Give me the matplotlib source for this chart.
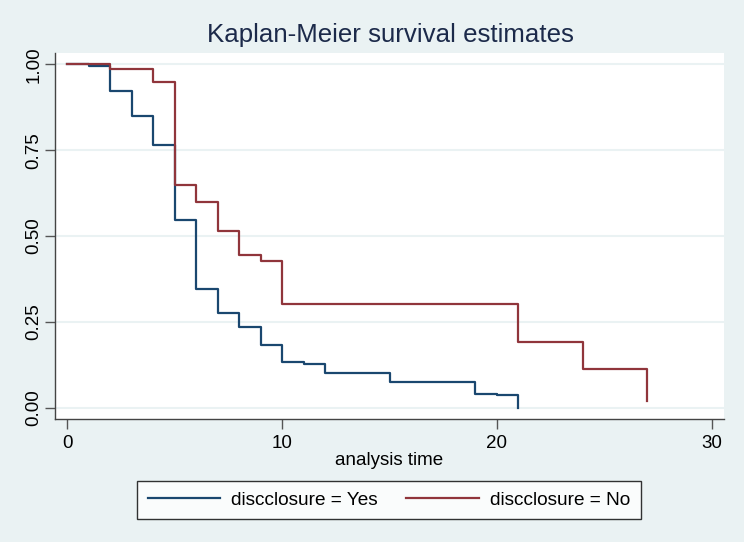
import matplotlib
matplotlib.use("Agg")
import matplotlib.pyplot as plt

# Kaplan-Meier estimates
t_yes = [0, 1, 2, 3, 4, 5, 6, 7, 8, 9, 10, 11, 12, 15, 19, 20, 21]
s_yes = [1.0, 0.994, 0.922, 0.850, 0.765, 0.547, 0.345, 0.275, 0.235,
         0.183, 0.133, 0.128, 0.101, 0.075, 0.041, 0.036, 0.0]
t_no = [0, 2, 4, 5, 6, 7, 8, 9, 10, 21, 24, 27]
s_no = [1.0, 0.987, 0.949, 0.650, 0.598, 0.515, 0.445, 0.428, 0.302,
        0.191, 0.113, 0.018]
x_ticks = [0, 10, 20, 30]
y_ticks = [0.0, 0.25, 0.5, 0.75, 1.0]
y_labels = ["0.00", "0.25", "0.50", "0.75", "1.00"]

plt.rcParams['font.family'] = ['Liberation Sans', 'DejaVu Sans']

bg = '#eaf2f3'
fig = plt.figure(figsize=(7.44, 5.42), dpi=100, facecolor=bg)
W, H = 744, 542
ax = fig.add_axes([55 / W, 1 - 419.3 / H, 669 / W, 366.6 / H])
ax.set_facecolor('white')

ax.step(t_yes, s_yes, where='post', color='#1a476f', lw=1.6,
        label='discclosure = Yes')
ax.step(t_no, s_no, where='post', color='#90353b', lw=1.6,
        label='discclosure = No')

ax.set_xlim(-0.573, 30.57)
ax.set_ylim(-0.034, 1.034)
ax.set_xticks(x_ticks)
ax.set_yticks(y_ticks)
ax.set_yticklabels(y_labels, rotation=90, va='center')
ax.tick_params(labelsize=13.5, length=7, width=1, color='#555555')
ax.tick_params(axis='x', pad=4)
ax.tick_params(axis='y', pad=2)
ax.yaxis.grid(True, color=bg, lw=1.5)
ax.set_axisbelow(True)

for side in ['top', 'right']:
    ax.spines[side].set_visible(False)
for side in ['left', 'bottom']:
    ax.spines[side].set_color('#444444')
    ax.spines[side].set_linewidth(1)

ax.set_xlabel('analysis time', fontsize=13.5, labelpad=0)
fig.text(390 / W, 1 - 35 / H, 'Kaplan-Meier survival estimates',
         fontsize=18.6, color='#1c2a4a', ha='center', va='center')

leg = fig.legend(loc='center', bbox_to_anchor=(389 / W, 1 - 500 / H),
                 ncol=2, fontsize=13.7, frameon=True, fancybox=False,
                 handlelength=3.8, handletextpad=0.6, columnspacing=1.5,
                 borderpad=0.55, borderaxespad=0)
leg.get_frame().set_edgecolor('black')
leg.get_frame().set_linewidth(1)

fig.savefig('out.png', dpi=100, facecolor=bg)
